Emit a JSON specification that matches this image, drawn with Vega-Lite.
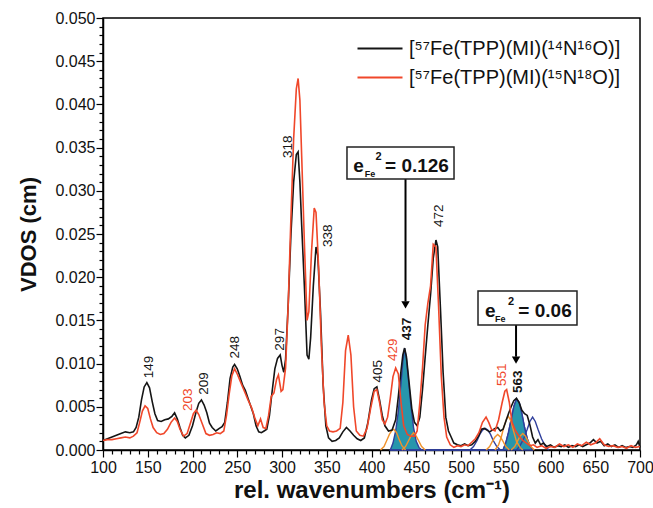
{
"$schema": "https://vega.github.io/schema/vega-lite/v6.json",
"width": 537, "height": 432,
"autosize": {"type": "none"},
"padding": {"left": 103, "top": 18, "right": 13, "bottom": 58},
"config": {"font": "Liberation Sans", "view": {"stroke": "#000", "strokeWidth": 1.5}, "axis": {"grid": false, "domainColor": "#000", "tickColor": "#000", "labelColor": "#111", "titleColor": "#111"}},
"datasets": {
"spectra": [
{"x":100,"y":0.0011,"s":"a"},{"x":105,"y":0.0013,"s":"a"},{"x":110,"y":0.0015,"s":"a"},{"x":115,"y":0.0017,"s":"a"},{"x":120,"y":0.0019,"s":"a"},{"x":125,"y":0.0021,"s":"a"},{"x":130,"y":0.002,"s":"a"},{"x":134,"y":0.0021,"s":"a"},{"x":137,"y":0.0026,"s":"a"},{"x":140,"y":0.0038,"s":"a"},{"x":143,"y":0.0058,"s":"a"},{"x":146,"y":0.0073,"s":"a"},{"x":149,"y":0.0078,"s":"a"},{"x":152,"y":0.0072,"s":"a"},{"x":155,"y":0.0056,"s":"a"},{"x":158,"y":0.0042,"s":"a"},{"x":161,"y":0.0034,"s":"a"},{"x":165,"y":0.0033,"s":"a"},{"x":169,"y":0.0035,"s":"a"},{"x":173,"y":0.0036,"s":"a"},{"x":177,"y":0.0039,"s":"a"},{"x":180,"y":0.0043,"s":"a"},{"x":183,"y":0.0036,"s":"a"},{"x":186,"y":0.0026,"s":"a"},{"x":189,"y":0.0017,"s":"a"},{"x":192,"y":0.0014,"s":"a"},{"x":196,"y":0.0017,"s":"a"},{"x":200,"y":0.0028,"s":"a"},{"x":204,"y":0.0044,"s":"a"},{"x":207,"y":0.0054,"s":"a"},{"x":210,"y":0.0058,"s":"a"},{"x":213,"y":0.0052,"s":"a"},{"x":216,"y":0.0043,"s":"a"},{"x":219,"y":0.0031,"s":"a"},{"x":222,"y":0.0026,"s":"a"},{"x":226,"y":0.0022,"s":"a"},{"x":230,"y":0.0025,"s":"a"},{"x":233,"y":0.0027,"s":"a"},{"x":236,"y":0.0032,"s":"a"},{"x":239,"y":0.0055,"s":"a"},{"x":242,"y":0.0083,"s":"a"},{"x":245,"y":0.0096,"s":"a"},{"x":247,"y":0.0099,"s":"a"},{"x":250,"y":0.0094,"s":"a"},{"x":253,"y":0.0085,"s":"a"},{"x":256,"y":0.0075,"s":"a"},{"x":259,"y":0.0069,"s":"a"},{"x":262,"y":0.006,"s":"a"},{"x":265,"y":0.0051,"s":"a"},{"x":268,"y":0.0042,"s":"a"},{"x":271,"y":0.0028,"s":"a"},{"x":274,"y":0.0021,"s":"a"},{"x":277,"y":0.002,"s":"a"},{"x":280,"y":0.0022,"s":"a"},{"x":283,"y":0.0024,"s":"a"},{"x":286,"y":0.004,"s":"a"},{"x":289,"y":0.0068,"s":"a"},{"x":292,"y":0.0094,"s":"a"},{"x":295,"y":0.0106,"s":"a"},{"x":298,"y":0.011,"s":"a"},{"x":300,"y":0.0098,"s":"a"},{"x":302,"y":0.009,"s":"a"},{"x":304,"y":0.0105,"s":"a"},{"x":307,"y":0.017,"s":"a"},{"x":310,"y":0.025,"s":"a"},{"x":313,"y":0.031,"s":"a"},{"x":316,"y":0.0342,"s":"a"},{"x":318,"y":0.0345,"s":"a"},{"x":320,"y":0.031,"s":"a"},{"x":322,"y":0.026,"s":"a"},{"x":325,"y":0.019,"s":"a"},{"x":328,"y":0.011,"s":"a"},{"x":330,"y":0.0105,"s":"a"},{"x":332,"y":0.013,"s":"a"},{"x":335,"y":0.019,"s":"a"},{"x":338,"y":0.0235,"s":"a"},{"x":340,"y":0.0225,"s":"a"},{"x":343,"y":0.016,"s":"a"},{"x":346,"y":0.0075,"s":"a"},{"x":349,"y":0.0028,"s":"a"},{"x":352,"y":0.0014,"s":"a"},{"x":356,"y":0.001,"s":"a"},{"x":360,"y":0.0011,"s":"a"},{"x":364,"y":0.0014,"s":"a"},{"x":368,"y":0.0021,"s":"a"},{"x":372,"y":0.0026,"s":"a"},{"x":376,"y":0.0022,"s":"a"},{"x":380,"y":0.0017,"s":"a"},{"x":384,"y":0.0013,"s":"a"},{"x":388,"y":0.0011,"s":"a"},{"x":392,"y":0.0014,"s":"a"},{"x":396,"y":0.0032,"s":"a"},{"x":400,"y":0.0058,"s":"a"},{"x":403,"y":0.0071,"s":"a"},{"x":406,"y":0.0073,"s":"a"},{"x":409,"y":0.0058,"s":"a"},{"x":412,"y":0.004,"s":"a"},{"x":415,"y":0.0028,"s":"a"},{"x":419,"y":0.0022,"s":"a"},{"x":423,"y":0.0023,"s":"a"},{"x":427,"y":0.0035,"s":"a"},{"x":430,"y":0.0062,"s":"a"},{"x":433,"y":0.0092,"s":"a"},{"x":435,"y":0.011,"s":"a"},{"x":437,"y":0.0118,"s":"a"},{"x":439,"y":0.0108,"s":"a"},{"x":442,"y":0.0078,"s":"a"},{"x":445,"y":0.0048,"s":"a"},{"x":448,"y":0.0032,"s":"a"},{"x":451,"y":0.0028,"s":"a"},{"x":454,"y":0.0038,"s":"a"},{"x":457,"y":0.007,"s":"a"},{"x":460,"y":0.0108,"s":"a"},{"x":463,"y":0.0145,"s":"a"},{"x":466,"y":0.018,"s":"a"},{"x":469,"y":0.0222,"s":"a"},{"x":472,"y":0.0243,"s":"a"},{"x":474,"y":0.0235,"s":"a"},{"x":477,"y":0.0165,"s":"a"},{"x":480,"y":0.009,"s":"a"},{"x":483,"y":0.0038,"s":"a"},{"x":486,"y":0.0022,"s":"a"},{"x":489,"y":0.0015,"s":"a"},{"x":492,"y":0.0008,"s":"a"},{"x":496,"y":0.0006,"s":"a"},{"x":500,"y":0.0005,"s":"a"},{"x":504,"y":0.0007,"s":"a"},{"x":508,"y":0.0005,"s":"a"},{"x":512,"y":0.0006,"s":"a"},{"x":516,"y":0.001,"s":"a"},{"x":520,"y":0.0017,"s":"a"},{"x":523,"y":0.0024,"s":"a"},{"x":526,"y":0.0025,"s":"a"},{"x":529,"y":0.0023,"s":"a"},{"x":532,"y":0.0021,"s":"a"},{"x":535,"y":0.0023,"s":"a"},{"x":538,"y":0.0025,"s":"a"},{"x":541,"y":0.0026,"s":"a"},{"x":544,"y":0.0022,"s":"a"},{"x":547,"y":0.0024,"s":"a"},{"x":550,"y":0.0033,"s":"a"},{"x":553,"y":0.0042,"s":"a"},{"x":556,"y":0.005,"s":"a"},{"x":559,"y":0.0057,"s":"a"},{"x":562,"y":0.006,"s":"a"},{"x":565,"y":0.0055,"s":"a"},{"x":568,"y":0.0046,"s":"a"},{"x":571,"y":0.0042,"s":"a"},{"x":574,"y":0.004,"s":"a"},{"x":577,"y":0.0029,"s":"a"},{"x":580,"y":0.0015,"s":"a"},{"x":583,"y":0.0008,"s":"a"},{"x":586,"y":0.0012,"s":"a"},{"x":589,"y":0.0006,"s":"a"},{"x":592,"y":0.0008,"s":"a"},{"x":596,"y":0.0004,"s":"a"},{"x":600,"y":0.0006,"s":"a"},{"x":604,"y":0.0003,"s":"a"},{"x":608,"y":0.0005,"s":"a"},{"x":612,"y":0.0004,"s":"a"},{"x":616,"y":0.0006,"s":"a"},{"x":620,"y":0.0003,"s":"a"},{"x":624,"y":0.0005,"s":"a"},{"x":628,"y":0.0004,"s":"a"},{"x":632,"y":0.0006,"s":"a"},{"x":636,"y":0.0004,"s":"a"},{"x":640,"y":0.0006,"s":"a"},{"x":644,"y":0.0008,"s":"a"},{"x":648,"y":0.0012,"s":"a"},{"x":652,"y":0.0008,"s":"a"},{"x":656,"y":0.001,"s":"a"},{"x":660,"y":0.0005,"s":"a"},{"x":664,"y":0.0007,"s":"a"},{"x":668,"y":0.0004,"s":"a"},{"x":672,"y":0.0006,"s":"a"},{"x":676,"y":0.0003,"s":"a"},{"x":680,"y":0.0005,"s":"a"},{"x":684,"y":0.0003,"s":"a"},{"x":688,"y":0.0004,"s":"a"},{"x":692,"y":0.0003,"s":"a"},{"x":696,"y":0.0006,"s":"a"},{"x":698,"y":0.001,"s":"a"},{"x":700,"y":0.0003,"s":"a"},
{"x":100,"y":0.0011,"s":"b"},{"x":105,"y":0.0012,"s":"b"},{"x":110,"y":0.0012,"s":"b"},{"x":115,"y":0.0013,"s":"b"},{"x":120,"y":0.0014,"s":"b"},{"x":125,"y":0.0015,"s":"b"},{"x":130,"y":0.0014,"s":"b"},{"x":134,"y":0.0016,"s":"b"},{"x":138,"y":0.002,"s":"b"},{"x":141,"y":0.0032,"s":"b"},{"x":144,"y":0.0045,"s":"b"},{"x":147,"y":0.0051,"s":"b"},{"x":150,"y":0.0048,"s":"b"},{"x":153,"y":0.0036,"s":"b"},{"x":156,"y":0.0026,"s":"b"},{"x":160,"y":0.002,"s":"b"},{"x":164,"y":0.0018,"s":"b"},{"x":168,"y":0.0019,"s":"b"},{"x":172,"y":0.0024,"s":"b"},{"x":176,"y":0.0032,"s":"b"},{"x":180,"y":0.0037,"s":"b"},{"x":183,"y":0.0033,"s":"b"},{"x":186,"y":0.0024,"s":"b"},{"x":190,"y":0.0016,"s":"b"},{"x":194,"y":0.0019,"s":"b"},{"x":198,"y":0.0032,"s":"b"},{"x":201,"y":0.0042,"s":"b"},{"x":204,"y":0.0046,"s":"b"},{"x":207,"y":0.0041,"s":"b"},{"x":211,"y":0.003,"s":"b"},{"x":215,"y":0.0019,"s":"b"},{"x":219,"y":0.0017,"s":"b"},{"x":223,"y":0.0018,"s":"b"},{"x":227,"y":0.002,"s":"b"},{"x":231,"y":0.0019,"s":"b"},{"x":235,"y":0.0022,"s":"b"},{"x":238,"y":0.004,"s":"b"},{"x":241,"y":0.0065,"s":"b"},{"x":244,"y":0.0086,"s":"b"},{"x":247,"y":0.0094,"s":"b"},{"x":250,"y":0.0088,"s":"b"},{"x":254,"y":0.0078,"s":"b"},{"x":258,"y":0.0068,"s":"b"},{"x":262,"y":0.0058,"s":"b"},{"x":266,"y":0.0049,"s":"b"},{"x":270,"y":0.0036,"s":"b"},{"x":273,"y":0.0028,"s":"b"},{"x":276,"y":0.0036,"s":"b"},{"x":279,"y":0.0026,"s":"b"},{"x":282,"y":0.0025,"s":"b"},{"x":285,"y":0.004,"s":"b"},{"x":288,"y":0.0062,"s":"b"},{"x":291,"y":0.0066,"s":"b"},{"x":294,"y":0.0082,"s":"b"},{"x":296,"y":0.0087,"s":"b"},{"x":299,"y":0.0068,"s":"b"},{"x":301,"y":0.007,"s":"b"},{"x":304,"y":0.0095,"s":"b"},{"x":307,"y":0.017,"s":"b"},{"x":310,"y":0.027,"s":"b"},{"x":313,"y":0.036,"s":"b"},{"x":316,"y":0.0418,"s":"b"},{"x":318,"y":0.043,"s":"b"},{"x":320,"y":0.0405,"s":"b"},{"x":322,"y":0.034,"s":"b"},{"x":325,"y":0.024,"s":"b"},{"x":328,"y":0.015,"s":"b"},{"x":330,"y":0.016,"s":"b"},{"x":333,"y":0.023,"s":"b"},{"x":336,"y":0.028,"s":"b"},{"x":338,"y":0.0275,"s":"b"},{"x":341,"y":0.021,"s":"b"},{"x":344,"y":0.012,"s":"b"},{"x":347,"y":0.0055,"s":"b"},{"x":350,"y":0.0028,"s":"b"},{"x":353,"y":0.0022,"s":"b"},{"x":357,"y":0.0021,"s":"b"},{"x":361,"y":0.0022,"s":"b"},{"x":365,"y":0.0025,"s":"b"},{"x":368,"y":0.0055,"s":"b"},{"x":371,"y":0.0115,"s":"b"},{"x":374,"y":0.0133,"s":"b"},{"x":377,"y":0.011,"s":"b"},{"x":380,"y":0.005,"s":"b"},{"x":383,"y":0.0022,"s":"b"},{"x":387,"y":0.0017,"s":"b"},{"x":391,"y":0.0016,"s":"b"},{"x":395,"y":0.0025,"s":"b"},{"x":399,"y":0.0048,"s":"b"},{"x":403,"y":0.0068,"s":"b"},{"x":406,"y":0.007,"s":"b"},{"x":409,"y":0.0055,"s":"b"},{"x":412,"y":0.0035,"s":"b"},{"x":415,"y":0.003,"s":"b"},{"x":418,"y":0.0038,"s":"b"},{"x":421,"y":0.006,"s":"b"},{"x":424,"y":0.0085,"s":"b"},{"x":427,"y":0.0095,"s":"b"},{"x":430,"y":0.0088,"s":"b"},{"x":433,"y":0.0055,"s":"b"},{"x":436,"y":0.0028,"s":"b"},{"x":440,"y":0.0018,"s":"b"},{"x":444,"y":0.0016,"s":"b"},{"x":448,"y":0.0016,"s":"b"},{"x":451,"y":0.0022,"s":"b"},{"x":454,"y":0.0055,"s":"b"},{"x":457,"y":0.0095,"s":"b"},{"x":460,"y":0.0145,"s":"b"},{"x":463,"y":0.017,"s":"b"},{"x":466,"y":0.019,"s":"b"},{"x":469,"y":0.0238,"s":"b"},{"x":472,"y":0.0235,"s":"b"},{"x":475,"y":0.0165,"s":"b"},{"x":478,"y":0.0085,"s":"b"},{"x":481,"y":0.0038,"s":"b"},{"x":484,"y":0.0015,"s":"b"},{"x":488,"y":0.0006,"s":"b"},{"x":492,"y":0.0003,"s":"b"},{"x":496,"y":0.0005,"s":"b"},{"x":500,"y":0.0004,"s":"b"},{"x":504,"y":0.0006,"s":"b"},{"x":508,"y":0.0005,"s":"b"},{"x":512,"y":0.0009,"s":"b"},{"x":516,"y":0.0013,"s":"b"},{"x":520,"y":0.002,"s":"b"},{"x":524,"y":0.0032,"s":"b"},{"x":528,"y":0.0038,"s":"b"},{"x":531,"y":0.0032,"s":"b"},{"x":534,"y":0.0024,"s":"b"},{"x":538,"y":0.0022,"s":"b"},{"x":542,"y":0.0035,"s":"b"},{"x":546,"y":0.0055,"s":"b"},{"x":549,"y":0.0068,"s":"b"},{"x":551,"y":0.007,"s":"b"},{"x":554,"y":0.0055,"s":"b"},{"x":557,"y":0.0032,"s":"b"},{"x":561,"y":0.0022,"s":"b"},{"x":565,"y":0.0016,"s":"b"},{"x":569,"y":0.0011,"s":"b"},{"x":573,"y":0.0008,"s":"b"},{"x":577,"y":0.0005,"s":"b"},{"x":581,"y":0.0006,"s":"b"},{"x":585,"y":0.0003,"s":"b"},{"x":590,"y":0.0005,"s":"b"},{"x":595,"y":0.0002,"s":"b"},{"x":600,"y":0.0004,"s":"b"},{"x":605,"y":0.0003,"s":"b"},{"x":610,"y":0.0007,"s":"b"},{"x":615,"y":0.0004,"s":"b"},{"x":620,"y":0.0006,"s":"b"},{"x":625,"y":0.0003,"s":"b"},{"x":630,"y":0.0007,"s":"b"},{"x":635,"y":0.0005,"s":"b"},{"x":640,"y":0.0009,"s":"b"},{"x":645,"y":0.0006,"s":"b"},{"x":650,"y":0.0008,"s":"b"},{"x":655,"y":0.0013,"s":"b"},{"x":660,"y":0.0006,"s":"b"},{"x":665,"y":0.0004,"s":"b"},{"x":670,"y":0.0005,"s":"b"},{"x":675,"y":0.0003,"s":"b"},{"x":680,"y":0.0004,"s":"b"},{"x":685,"y":0.0002,"s":"b"},{"x":690,"y":0.0005,"s":"b"},{"x":695,"y":0.0003,"s":"b"},{"x":700,"y":0.0004,"s":"b"}
],
"comps": [
{"x":421,"y":0,"c":"tA","k":"t"},{"x":424,"y":0.0008,"c":"tA","k":"t"},{"x":427,"y":0.0022,"c":"tA","k":"t"},{"x":430,"y":0.0045,"c":"tA","k":"t"},{"x":433,"y":0.0078,"c":"tA","k":"t"},{"x":435,"y":0.0102,"c":"tA","k":"t"},{"x":437,"y":0.0118,"c":"tA","k":"t"},{"x":439,"y":0.0106,"c":"tA","k":"t"},{"x":441,"y":0.0084,"c":"tA","k":"t"},{"x":444,"y":0.0052,"c":"tA","k":"t"},{"x":447,"y":0.0026,"c":"tA","k":"t"},{"x":450,"y":0.001,"c":"tA","k":"t"},{"x":453,"y":0.0003,"c":"tA","k":"t"},{"x":456,"y":0,"c":"tA","k":"t"},
{"x":547,"y":0,"c":"tB","k":"t"},{"x":550,"y":0.0008,"c":"tB","k":"t"},{"x":553,"y":0.002,"c":"tB","k":"t"},{"x":556,"y":0.0035,"c":"tB","k":"t"},{"x":559,"y":0.005,"c":"tB","k":"t"},{"x":562,"y":0.0059,"c":"tB","k":"t"},{"x":565,"y":0.0055,"c":"tB","k":"t"},{"x":568,"y":0.0042,"c":"tB","k":"t"},{"x":571,"y":0.0026,"c":"tB","k":"t"},{"x":574,"y":0.0013,"c":"tB","k":"t"},{"x":577,"y":0.0005,"c":"tB","k":"t"},{"x":580,"y":0,"c":"tB","k":"t"},
{"x":510,"y":0,"c":"b1","k":"b"},{"x":514,"y":0.0004,"c":"b1","k":"b"},{"x":518,"y":0.0011,"c":"b1","k":"b"},{"x":521,"y":0.0018,"c":"b1","k":"b"},{"x":524,"y":0.0023,"c":"b1","k":"b"},{"x":527,"y":0.0025,"c":"b1","k":"b"},{"x":530,"y":0.0023,"c":"b1","k":"b"},{"x":533,"y":0.0018,"c":"b1","k":"b"},{"x":536,"y":0.0011,"c":"b1","k":"b"},{"x":540,"y":0.0004,"c":"b1","k":"b"},{"x":544,"y":0,"c":"b1","k":"b"},
{"x":562,"y":0,"c":"b2","k":"b"},{"x":566,"y":0.0005,"c":"b2","k":"b"},{"x":570,"y":0.0013,"c":"b2","k":"b"},{"x":574,"y":0.0024,"c":"b2","k":"b"},{"x":577,"y":0.0033,"c":"b2","k":"b"},{"x":580,"y":0.0038,"c":"b2","k":"b"},{"x":583,"y":0.0033,"c":"b2","k":"b"},{"x":586,"y":0.0024,"c":"b2","k":"b"},{"x":590,"y":0.0013,"c":"b2","k":"b"},{"x":594,"y":0.0005,"c":"b2","k":"b"},{"x":598,"y":0,"c":"b2","k":"b"},
{"x":410,"y":0,"c":"o1","k":"o"},{"x":414,"y":0.0004,"c":"o1","k":"o"},{"x":417,"y":0.0011,"c":"o1","k":"o"},{"x":420,"y":0.0018,"c":"o1","k":"o"},{"x":423,"y":0.0023,"c":"o1","k":"o"},{"x":425,"y":0.0024,"c":"o1","k":"o"},{"x":428,"y":0.002,"c":"o1","k":"o"},{"x":431,"y":0.0012,"c":"o1","k":"o"},{"x":434,"y":0.0005,"c":"o1","k":"o"},{"x":438,"y":0,"c":"o1","k":"o"},
{"x":434,"y":0,"c":"o2","k":"o"},{"x":438,"y":0.0004,"c":"o2","k":"o"},{"x":441,"y":0.001,"c":"o2","k":"o"},{"x":444,"y":0.0016,"c":"o2","k":"o"},{"x":447,"y":0.002,"c":"o2","k":"o"},{"x":450,"y":0.0016,"c":"o2","k":"o"},{"x":453,"y":0.001,"c":"o2","k":"o"},{"x":456,"y":0.0004,"c":"o2","k":"o"},{"x":460,"y":0,"c":"o2","k":"o"},
{"x":528,"y":0,"c":"o3","k":"o"},{"x":532,"y":0.0004,"c":"o3","k":"o"},{"x":535,"y":0.001,"c":"o3","k":"o"},{"x":538,"y":0.0015,"c":"o3","k":"o"},{"x":541,"y":0.0018,"c":"o3","k":"o"},{"x":544,"y":0.0015,"c":"o3","k":"o"},{"x":547,"y":0.001,"c":"o3","k":"o"},{"x":550,"y":0.0004,"c":"o3","k":"o"},{"x":554,"y":0,"c":"o3","k":"o"},
{"x":538,"y":0,"c":"o4","k":"o"},{"x":542,"y":0.0006,"c":"o4","k":"o"},{"x":545,"y":0.0015,"c":"o4","k":"o"},{"x":548,"y":0.0027,"c":"o4","k":"o"},{"x":551,"y":0.0036,"c":"o4","k":"o"},{"x":553,"y":0.0039,"c":"o4","k":"o"},{"x":556,"y":0.0033,"c":"o4","k":"o"},{"x":559,"y":0.0021,"c":"o4","k":"o"},{"x":562,"y":0.001,"c":"o4","k":"o"},{"x":566,"y":0.0003,"c":"o4","k":"o"},{"x":569,"y":0,"c":"o4","k":"o"},
{"x":556,"y":0,"c":"o5","k":"o"},{"x":560,"y":0.0004,"c":"o5","k":"o"},{"x":563,"y":0.001,"c":"o5","k":"o"},{"x":566,"y":0.0016,"c":"o5","k":"o"},{"x":569,"y":0.0019,"c":"o5","k":"o"},{"x":572,"y":0.0016,"c":"o5","k":"o"},{"x":575,"y":0.001,"c":"o5","k":"o"},{"x":578,"y":0.0004,"c":"o5","k":"o"},{"x":582,"y":0,"c":"o5","k":"o"}
],
"labels": [
{"x":151.5,"y":0.0083,"t":"149","c":"k","b":0},
{"x":195,"y":0.0045,"t":"203","c":"r","b":0},
{"x":212.8,"y":0.0064,"t":"209","c":"k","b":0},
{"x":247.5,"y":0.0106,"t":"248","c":"k","b":0},
{"x":297.8,"y":0.0115,"t":"297","c":"k","b":0},
{"x":306.7,"y":0.0338,"t":"318","c":"k","b":0},
{"x":351.4,"y":0.0235,"t":"338","c":"k","b":0},
{"x":407,"y":0.0078,"t":"405","c":"k","b":0},
{"x":424,"y":0.0103,"t":"429","c":"r","b":0},
{"x":439.7,"y":0.0127,"t":"437","c":"k","b":1},
{"x":475.4,"y":0.0258,"t":"472","c":"k","b":0},
{"x":545.8,"y":0.0074,"t":"551","c":"r","b":0},
{"x":563.7,"y":0.0066,"t":"563","c":"k","b":1}
],
"boxes": [
{"x":372.6,"x2":492.2,"y":0.03137,"y2":0.03507},
{"x":519,"x2":629.6,"y":0.01447,"y2":0.0184}
],
"boxtext": [
{"x":379.7,"y":0.03214,"t":"e","r":"m"},
{"x":415.1,"y":0.03214,"t":"= 0.126","r":"m"},
{"x":392.5,"y":0.03156,"t":"Fe","r":"sub"},
{"x":404.5,"y":0.03356,"t":"2","r":"sup"},
{"x":526.8,"y":0.01543,"t":"e","r":"m"},
{"x":564.1,"y":0.01543,"t":"= 0.06","r":"m"},
{"x":538,"y":0.01485,"t":"Fe","r":"sub"},
{"x":552.6,"y":0.01678,"t":"2","r":"sup"}
],
"arrows": [
{"x":438,"y":0.03137,"y2":0.0172},
{"x":561.5,"y":0.01447,"y2":0.0108}
],
"heads": [
{"x":438,"y":0.0168},
{"x":561.5,"y":0.0104}
]
},
"encoding": {
"x": {"field": "x", "type": "quantitative", "scale": {"domain": [100, 700], "nice": false, "zero": false},
"axis": {"title": "rel. wavenumbers (cm⁻¹)", "values": [100,110,120,130,140,150,160,170,180,190,200,210,220,230,240,250,260,270,280,290,300,310,320,330,340,350,360,370,380,390,400,410,420,430,440,450,460,470,480,490,500,510,520,530,540,550,560,570,580,590,600,610,620,630,640,650,660,670,680,690,700],
"labelExpr": "datum.value % 50 === 0 ? datum.label : ''",
"tickSize": {"condition": {"test": "datum.value % 50 === 0", "value": 7}, "value": 4},
"labelFontSize": 16, "labelPadding": 2, "labelFlush": false, "labelOverlap": false, "format": "d",
"titleFontSize": 24, "titleFontWeight": "bold", "titlePadding": 3, "domainWidth": 1.5, "tickWidth": 1.2}},
"y": {"field": "y", "type": "quantitative", "scale": {"domain": [0, 0.05], "nice": false},
"axis": {"title": "VDOS (cm)", "values": [0,0.001,0.002,0.003,0.004,0.005,0.006,0.007,0.008,0.009,0.01,0.011,0.012,0.013,0.014,0.015,0.016,0.017,0.018,0.019,0.02,0.021,0.022,0.023,0.024,0.025,0.026,0.027,0.028,0.029,0.03,0.031,0.032,0.033,0.034,0.035,0.036,0.037,0.038,0.039,0.04,0.041,0.042,0.043,0.044,0.045,0.046,0.047,0.048,0.049,0.05],
"labelExpr": "round(datum.value*1000) % 5 === 0 ? format(datum.value, '.3f') : ''",
"tickSize": {"condition": {"test": "round(datum.value*1000) % 5 === 0", "value": 7}, "value": 4},
"labelFontSize": 16, "labelPadding": 1, "labelFlush": false, "labelOverlap": false,
"titleFontSize": 22, "titleFontWeight": "bold", "titlePadding": 14, "domainWidth": 1.5, "tickWidth": 1.2}}
},
"layer": [
{
"data": {"name": "comps"},
"transform": [{"filter": "datum.k === 't'"}],
"mark": {"type": "area", "fill": "#2796ac", "stroke": "#2f3f9c", "strokeWidth": 1.4},
"encoding": {"detail": {"field": "c"}}
},
{
"data": {"name": "comps"},
"transform": [{"filter": "datum.k === 'b'"}],
"mark": {"type": "line", "stroke": "#2f3f9c", "strokeWidth": 1.4},
"encoding": {"detail": {"field": "c"}}
},
{
"data": {"name": "comps"},
"transform": [{"filter": "datum.k === 'o'"}],
"mark": {"type": "line", "stroke": "#f0922b", "strokeWidth": 1.4},
"encoding": {"detail": {"field": "c"}}
},
{
"data": {"name": "spectra"},
"mark": {"type": "line", "strokeWidth": 1.6},
"encoding": {
"color": {"field": "s", "type": "nominal", "scale": {"domain": ["a", "b"], "range": ["#151515", "#f0472a"]},
"legend": {"orient": "none", "legendX": 267, "legendY": 20.5, "title": null, "padding": 0, "symbolType": "M-5,0H5", "symbolSize": 81, "symbolStrokeWidth": 1.8, "labelFontSize": 20, "labelOffset": 19, "rowPadding": 9, "labelLimit": 400, "labelColor": "#111",
"labelExpr": "datum.label === 'a' ? '[⁵⁷Fe(TPP)(MI)(¹⁴N¹⁶O)]' : '[⁵⁷Fe(TPP)(MI)(¹⁵N¹⁸O)]'"}}
}
},
{
"data": {"name": "labels"},
"transform": [{"filter": "datum.b === 0"}],
"mark": {"type": "text", "angle": 270, "align": "left", "baseline": "middle", "fontSize": 13.5},
"encoding": {"text": {"field": "t"},
"color": {"condition": {"test": "datum.c === 'r'", "value": "#f0472a"}, "value": "#151515"}}
},
{
"data": {"name": "labels"},
"transform": [{"filter": "datum.b === 1"}],
"mark": {"type": "text", "angle": 270, "align": "left", "baseline": "middle", "fontSize": 13.5, "fontWeight": "bold", "color": "#151515"},
"encoding": {"text": {"field": "t"}}
},
{
"data": {"name": "arrows"},
"mark": {"type": "rule", "strokeWidth": 2, "color": "#000"},
"encoding": {"y2": {"field": "y2"}}
},
{
"data": {"name": "heads"},
"mark": {"type": "point", "shape": "triangle-down", "filled": true, "size": 70, "color": "#000", "opacity": 1},
"encoding": {}
},
{
"data": {"name": "boxes"},
"mark": {"type": "rect", "fill": "#fff", "stroke": "#222", "strokeWidth": 1.5},
"encoding": {"x2": {"field": "x2"}, "y2": {"field": "y2"}}
},
{
"data": {"name": "boxtext"},
"transform": [{"filter": "datum.r === 'm'"}],
"mark": {"type": "text", "align": "left", "baseline": "alphabetic", "fontSize": 19, "fontWeight": "bold", "color": "#111"},
"encoding": {"text": {"field": "t"}}
},
{
"data": {"name": "boxtext"},
"transform": [{"filter": "datum.r === 'sub'"}],
"mark": {"type": "text", "align": "left", "baseline": "alphabetic", "fontSize": 9, "fontWeight": "bold", "color": "#111"},
"encoding": {"text": {"field": "t"}}
},
{
"data": {"name": "boxtext"},
"transform": [{"filter": "datum.r === 'sup'"}],
"mark": {"type": "text", "align": "left", "baseline": "alphabetic", "fontSize": 11, "fontWeight": "bold", "color": "#111"},
"encoding": {"text": {"field": "t"}}
}
]
}
